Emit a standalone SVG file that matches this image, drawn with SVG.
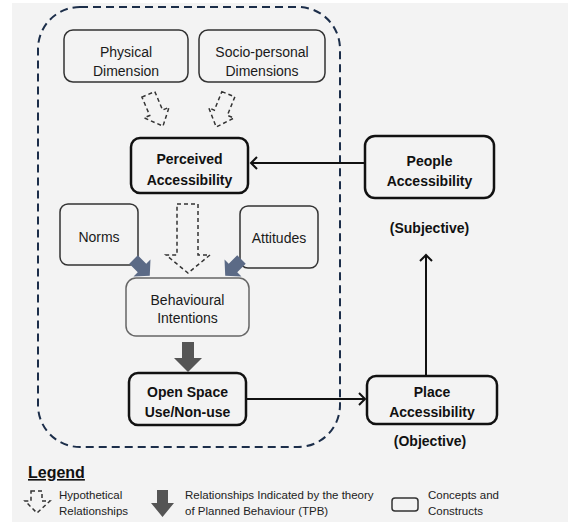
<svg xmlns="http://www.w3.org/2000/svg" width="568" height="522" viewBox="0 0 568 522">
<defs>
<style>
.box{fill:#f3f3f3;stroke:#333;stroke-width:1.5}
.bbox{fill:#f3f3f3;stroke:#111;stroke-width:2.5}
.lbox{fill:#f3f3f3;stroke:#666;stroke-width:1.5}
.t{font-family:"Liberation Sans",Arial,sans-serif;font-size:14px;fill:#1a1a1a;text-anchor:middle}
.b{font-weight:bold;fill:#111}
.lg{font-family:"Liberation Sans",Arial,sans-serif;font-size:11.5px;fill:#222}
.hyp{fill:none;stroke:#333;stroke-width:1.5;stroke-dasharray:4 3}
.tpb{fill:#555}
.tpbb{fill:#5b6a86}
.con{fill:none;stroke:#111;stroke-width:2}
</style>
<path id="harrow" d="M-7,-17 H7 V3 H14 L1,18 L-13,3 H-7 Z"/>
<path id="sarrow" d="M-6,-12 H6 V0 H12 L0,11 L-12,0 H-6 Z"/>
</defs>
<rect x="0" y="0" width="568" height="522" fill="#ffffff"/>
<rect x="12" y="3" width="556" height="519" fill="#f3f3f3"/>

<g id="container">
<rect x="38" y="7" width="302" height="440" rx="42" ry="42" fill="none" stroke="#1c2e4a" stroke-width="2" stroke-dasharray="8 5"/>
</g>

<g id="physical">
<rect class="box" x="64" y="30" width="124" height="52" rx="9"/>
<text class="t" x="126" y="57">Physical</text>
<text class="t" x="126" y="76">Dimension</text>
</g>
<g id="socio">
<rect class="box" x="199" y="30" width="126" height="52" rx="9"/>
<text class="t" x="262" y="57">Socio-personal</text>
<text class="t" x="262" y="76">Dimensions</text>
</g>
<g id="perceived">
<rect class="bbox" x="131" y="138" width="117" height="55" rx="9"/>
<text class="t b" x="189.5" y="164">Perceived</text>
<text class="t b" x="189.5" y="185">Accessibility</text>
</g>
<g id="norms">
<rect class="box" x="60" y="204" width="78" height="61" rx="8"/>
<text class="t" x="99" y="242">Norms</text>
</g>
<g id="attitudes">
<rect class="box" x="240" y="206" width="78" height="62" rx="8"/>
<text class="t" x="279" y="243">Attitudes</text>
</g>
<g id="behavioural">
<rect class="lbox" x="126" y="278" width="123" height="58" rx="10"/>
<text class="t" x="187.5" y="305">Behavioural</text>
<text class="t" x="187.5" y="323">Intentions</text>
</g>
<g id="openspace">
<rect class="bbox" x="129" y="373" width="117" height="52" rx="9"/>
<text class="t b" x="187.5" y="397">Open Space</text>
<text class="t b" x="187.5" y="417">Use/Non-use</text>
</g>
<g id="people">
<rect class="bbox" x="365" y="136" width="129" height="62" rx="10"/>
<text class="t b" x="429.5" y="166">People</text>
<text class="t b" x="429.5" y="186">Accessibility</text>
<text class="t b" x="429.5" y="233">(Subjective)</text>
</g>
<g id="place">
<rect class="bbox" x="367" y="376" width="130" height="48" rx="9"/>
<text class="t b" x="432" y="397">Place</text>
<text class="t b" x="432" y="417">Accessibility</text>
<text class="t b" x="430" y="446">(Objective)</text>
</g>

<g id="connectors">
<use href="#harrow" class="hyp" transform="translate(155,110) rotate(-23)"/>
<use href="#harrow" class="hyp" transform="translate(222,110) rotate(22)"/>
<path class="hyp" d="M177,204 H198 V255 H210 L188,273 L166,255 H177 Z" stroke-dasharray="5 3"/>
<use href="#sarrow" class="tpbb" transform="translate(142,268) rotate(-45)"/>
<use href="#sarrow" class="tpbb" transform="translate(233,268) rotate(45)"/>
<path class="tpb" d="M182,342 H194 V358 H202 L188,372 L174,358 H182 Z"/>
<line class="con" x1="251" y1="163" x2="365" y2="163"/>
<polyline class="con" points="257,157 251,163 257,169"/>
<line class="con" x1="246" y1="399" x2="365" y2="399"/>
<polyline class="con" points="359,393 365,399 359,405"/>
<line class="con" x1="426" y1="375" x2="426" y2="255"/>
<polyline class="con" points="420,261 426,255 432,261"/>
</g>

<g id="legend">
<text x="28" y="478" font-family="'Liberation Sans',Arial,sans-serif" font-size="16" font-weight="bold" fill="#111" text-decoration="underline">Legend</text>
<path class="hyp" d="M31,491 H42 V501 H50 L37,513 L25,501 H31 Z" stroke-width="1.3" stroke-dasharray="3 3"/>
<text class="lg" x="59" y="499">Hypothetical</text>
<text class="lg" x="59" y="515">Relationships</text>
<path class="tpb" d="M157,490 H168 V503 H174 L162.5,517 L151,503 H157 Z"/>
<text class="lg" x="185" y="499">Relationships Indicated by the theory</text>
<text class="lg" x="185" y="515">of Planned Behaviour (TPB)</text>
<rect x="392" y="498" width="26" height="13" rx="3" fill="none" stroke="#333" stroke-width="1.5"/>
<text class="lg" x="428" y="499">Concepts and</text>
<text class="lg" x="428" y="515">Constructs</text>
</g>
</svg>
